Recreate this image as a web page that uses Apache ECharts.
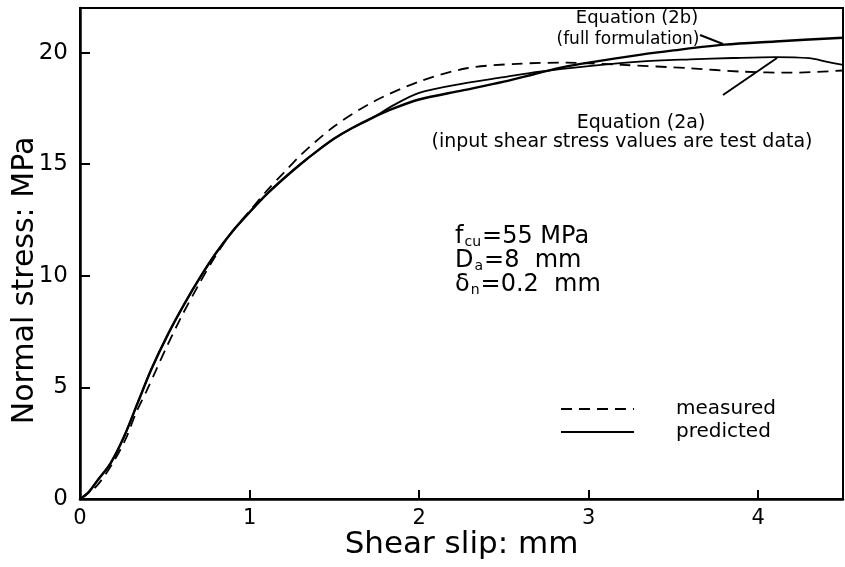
<!DOCTYPE html>
<html>
<head>
<meta charset="utf-8">
<script src="https://cdn.jsdelivr.net/npm/echarts@6/dist/echarts.min.js"></script>
<style>html,body{margin:0;padding:0;background:#fff;}#c{width:845px;height:567px;}</style>
</head>
<body>
<div id="c"></div>
<script>
// Measured curve (dashed)
const measuredX = [0, 0.1, 0.2, 0.27, 0.33, 0.39, 0.45, 0.51, 0.6, 0.7, 0.8, 0.9, 1.0, 1.1, 1.2, 1.3, 1.5, 1.73, 2.0, 2.28, 2.58, 2.87, 3.2, 3.6, 3.9, 4.2, 4.5];
const measuredY = [0, 0.6, 1.7, 2.7, 3.85, 4.8, 5.8, 6.8, 8.2, 9.6, 10.9, 12.0, 12.9, 13.8, 14.6, 15.4, 16.7, 17.8, 18.7, 19.3, 19.5, 19.55, 19.45, 19.3, 19.15, 19.1, 19.2];
// Predicted: common rising part
const predSharedX = [0, 0.05, 0.1, 0.18, 0.26, 0.34, 0.42, 0.52, 0.62, 0.71, 0.8, 0.9, 1.0, 1.1, 1.2, 1.3, 1.4, 1.5, 1.6, 1.73];
const predSharedY = [0, 0.3, 0.8, 1.6, 2.8, 4.3, 5.8, 7.4, 8.8, 9.95, 11.0, 12.0, 12.85, 13.65, 14.35, 15.0, 15.6, 16.15, 16.6, 17.1];
// Equation (2a) branch
const pred2aX = [1.85, 2.0, 2.25, 2.5, 2.71, 3.0, 3.3, 3.6, 3.85, 4.1, 4.3, 4.4, 4.5];
const pred2aY = [17.65, 18.2, 18.6, 18.9, 19.15, 19.4, 19.6, 19.7, 19.76, 19.8, 19.75, 19.6, 19.45];
// Equation (2b) branch
const pred2bX = [1.85, 2.0, 2.25, 2.5, 2.71, 2.85, 3.0, 3.3, 3.5, 3.8, 4.1, 4.5];
const pred2bY = [17.5, 17.9, 18.3, 18.7, 19.1, 19.35, 19.55, 19.9, 20.1, 20.36, 20.5, 20.67];

const xTicks = [0, 1, 2, 3, 4];
const yTicks = [0, 5, 10, 15, 20];

const zip = (xs, ys) => xs.map((v, i) => [v, ys[i]]);
const FF = 'DejaVu Sans';

const chart = echarts.init(document.getElementById('c'), null, {renderer: 'canvas'});
chart.setOption({
  backgroundColor: '#fff',
  animation: false,
  color: ['#000', '#000', '#000'],
  grid: {left: 80, right: 2, top: 8, bottom: 68, show: true, borderColor: '#000', borderWidth: 2,
    containLabel: false, outerBoundsMode: 'none'},
  xAxis: {
    type: 'value', min: 0, max: 4.5, interval: 1,
    name: 'Shear slip: mm', nameLocation: 'middle', nameGap: 30, nameMoveOverlap: false,
    nameTextStyle: {fontFamily: FF, fontSize: 31, color: '#000'},
    axisLine: {lineStyle: {color: '#000', width: 2.5}},
    axisTick: {inside: true, length: 9, lineStyle: {color: '#000', width: 2}},
    axisLabel: {fontFamily: FF, fontSize: 21, color: '#000', margin: 9, showMaxLabel: false,
      formatter: v => xTicks.includes(v) ? String(v) : ''},
    splitLine: {show: false}
  },
  yAxis: {
    type: 'value', min: 0, max: 22, interval: 5,
    name: 'Normal stress: MPa', nameLocation: 'middle', nameGap: 40, nameMoveOverlap: false,
    nameTextStyle: {fontFamily: FF, fontSize: 30, color: '#000', padding: [0, 54, 0, 0]},
    axisLine: {lineStyle: {color: '#000', width: 2.5}},
    axisTick: {inside: true, length: 10, lineStyle: {color: '#000', width: 2}},
    axisLabel: {fontFamily: FF, fontSize: 23, color: '#000', margin: 12, showMaxLabel: false,
      formatter: v => yTicks.includes(v) ? String(v) : ''},
    splitLine: {show: false}
  },
  legend: {
    data: ['measured', 'predicted'], orient: 'vertical', left: 560, top: 399,
    itemWidth: 73, itemHeight: 14, itemGap: 3, padding: 0,
    itemStyle: {opacity: 0},
    textStyle: {fontFamily: FF, fontSize: 20, color: '#000', padding: [0, 0, 0, 37]}
  },
  series: [
    {name: 'measured', type: 'line', data: zip(measuredX, measuredY), smooth: 0.3, symbol: 'none',
      itemStyle: {color: '#000'},
      lineStyle: {color: '#000', width: 1.8, type: [11, 7]}},
    {name: 'predicted', type: 'line', data: zip(predSharedX.concat(pred2aX), predSharedY.concat(pred2aY)), smooth: 0.3, symbol: 'none',
      itemStyle: {color: '#000'},
      lineStyle: {color: '#000', width: 1.8}},
    {name: 'predicted', type: 'line', data: zip(predSharedX.concat(pred2bX), predSharedY.concat(pred2bY)), smooth: 0.3, symbol: 'none',
      itemStyle: {color: '#000'},
      lineStyle: {color: '#000', width: 2.4}}
  ],
  graphic: [
    {type: 'text', x: 637, y: 18, style: {text: 'Equation (2b)', fontFamily: FF, fontSize: 18, fill: '#000', align: 'center', verticalAlign: 'middle'}},
    {type: 'text', x: 628, y: 40, style: {text: '(full formulation)', fontFamily: FF, fontSize: 17, fill: '#000', align: 'center', verticalAlign: 'middle'}},
    {type: 'line', shape: {x1: 700, y1: 35, x2: 723, y2: 44}, style: {stroke: '#000', lineWidth: 2}},
    {type: 'text', x: 641, y: 123, style: {text: 'Equation (2a)', fontFamily: FF, fontSize: 19, fill: '#000', align: 'center', verticalAlign: 'middle'}},
    {type: 'text', x: 622, y: 142, style: {text: '(input shear stress values are test data)', fontFamily: FF, fontSize: 19, fill: '#000', align: 'center', verticalAlign: 'middle'}},
    {type: 'line', shape: {x1: 723, y1: 95, x2: 777, y2: 58}, style: {stroke: '#000', lineWidth: 2}},
    {type: 'text', x: 455, y: 225, style: {
      text: '{a|f}{s|cu}{a|=55 MPa}\n{a|D}{s|a}{a|=8  mm}\n{a|δ}{s|n}{a|=0.2  mm}',
      fill: '#000', align: 'left', verticalAlign: 'top', lineHeight: 24,
      rich: {
        a: {fontFamily: FF, fontSize: 24, lineHeight: 24, fill: '#000', verticalAlign: 'bottom'},
        s: {fontFamily: FF, fontSize: 14, lineHeight: 24, fill: '#000', verticalAlign: 'bottom', padding: [0, 1, 0, 1]}
      }
    }}
  ]
});
</script>
</body>
</html>
